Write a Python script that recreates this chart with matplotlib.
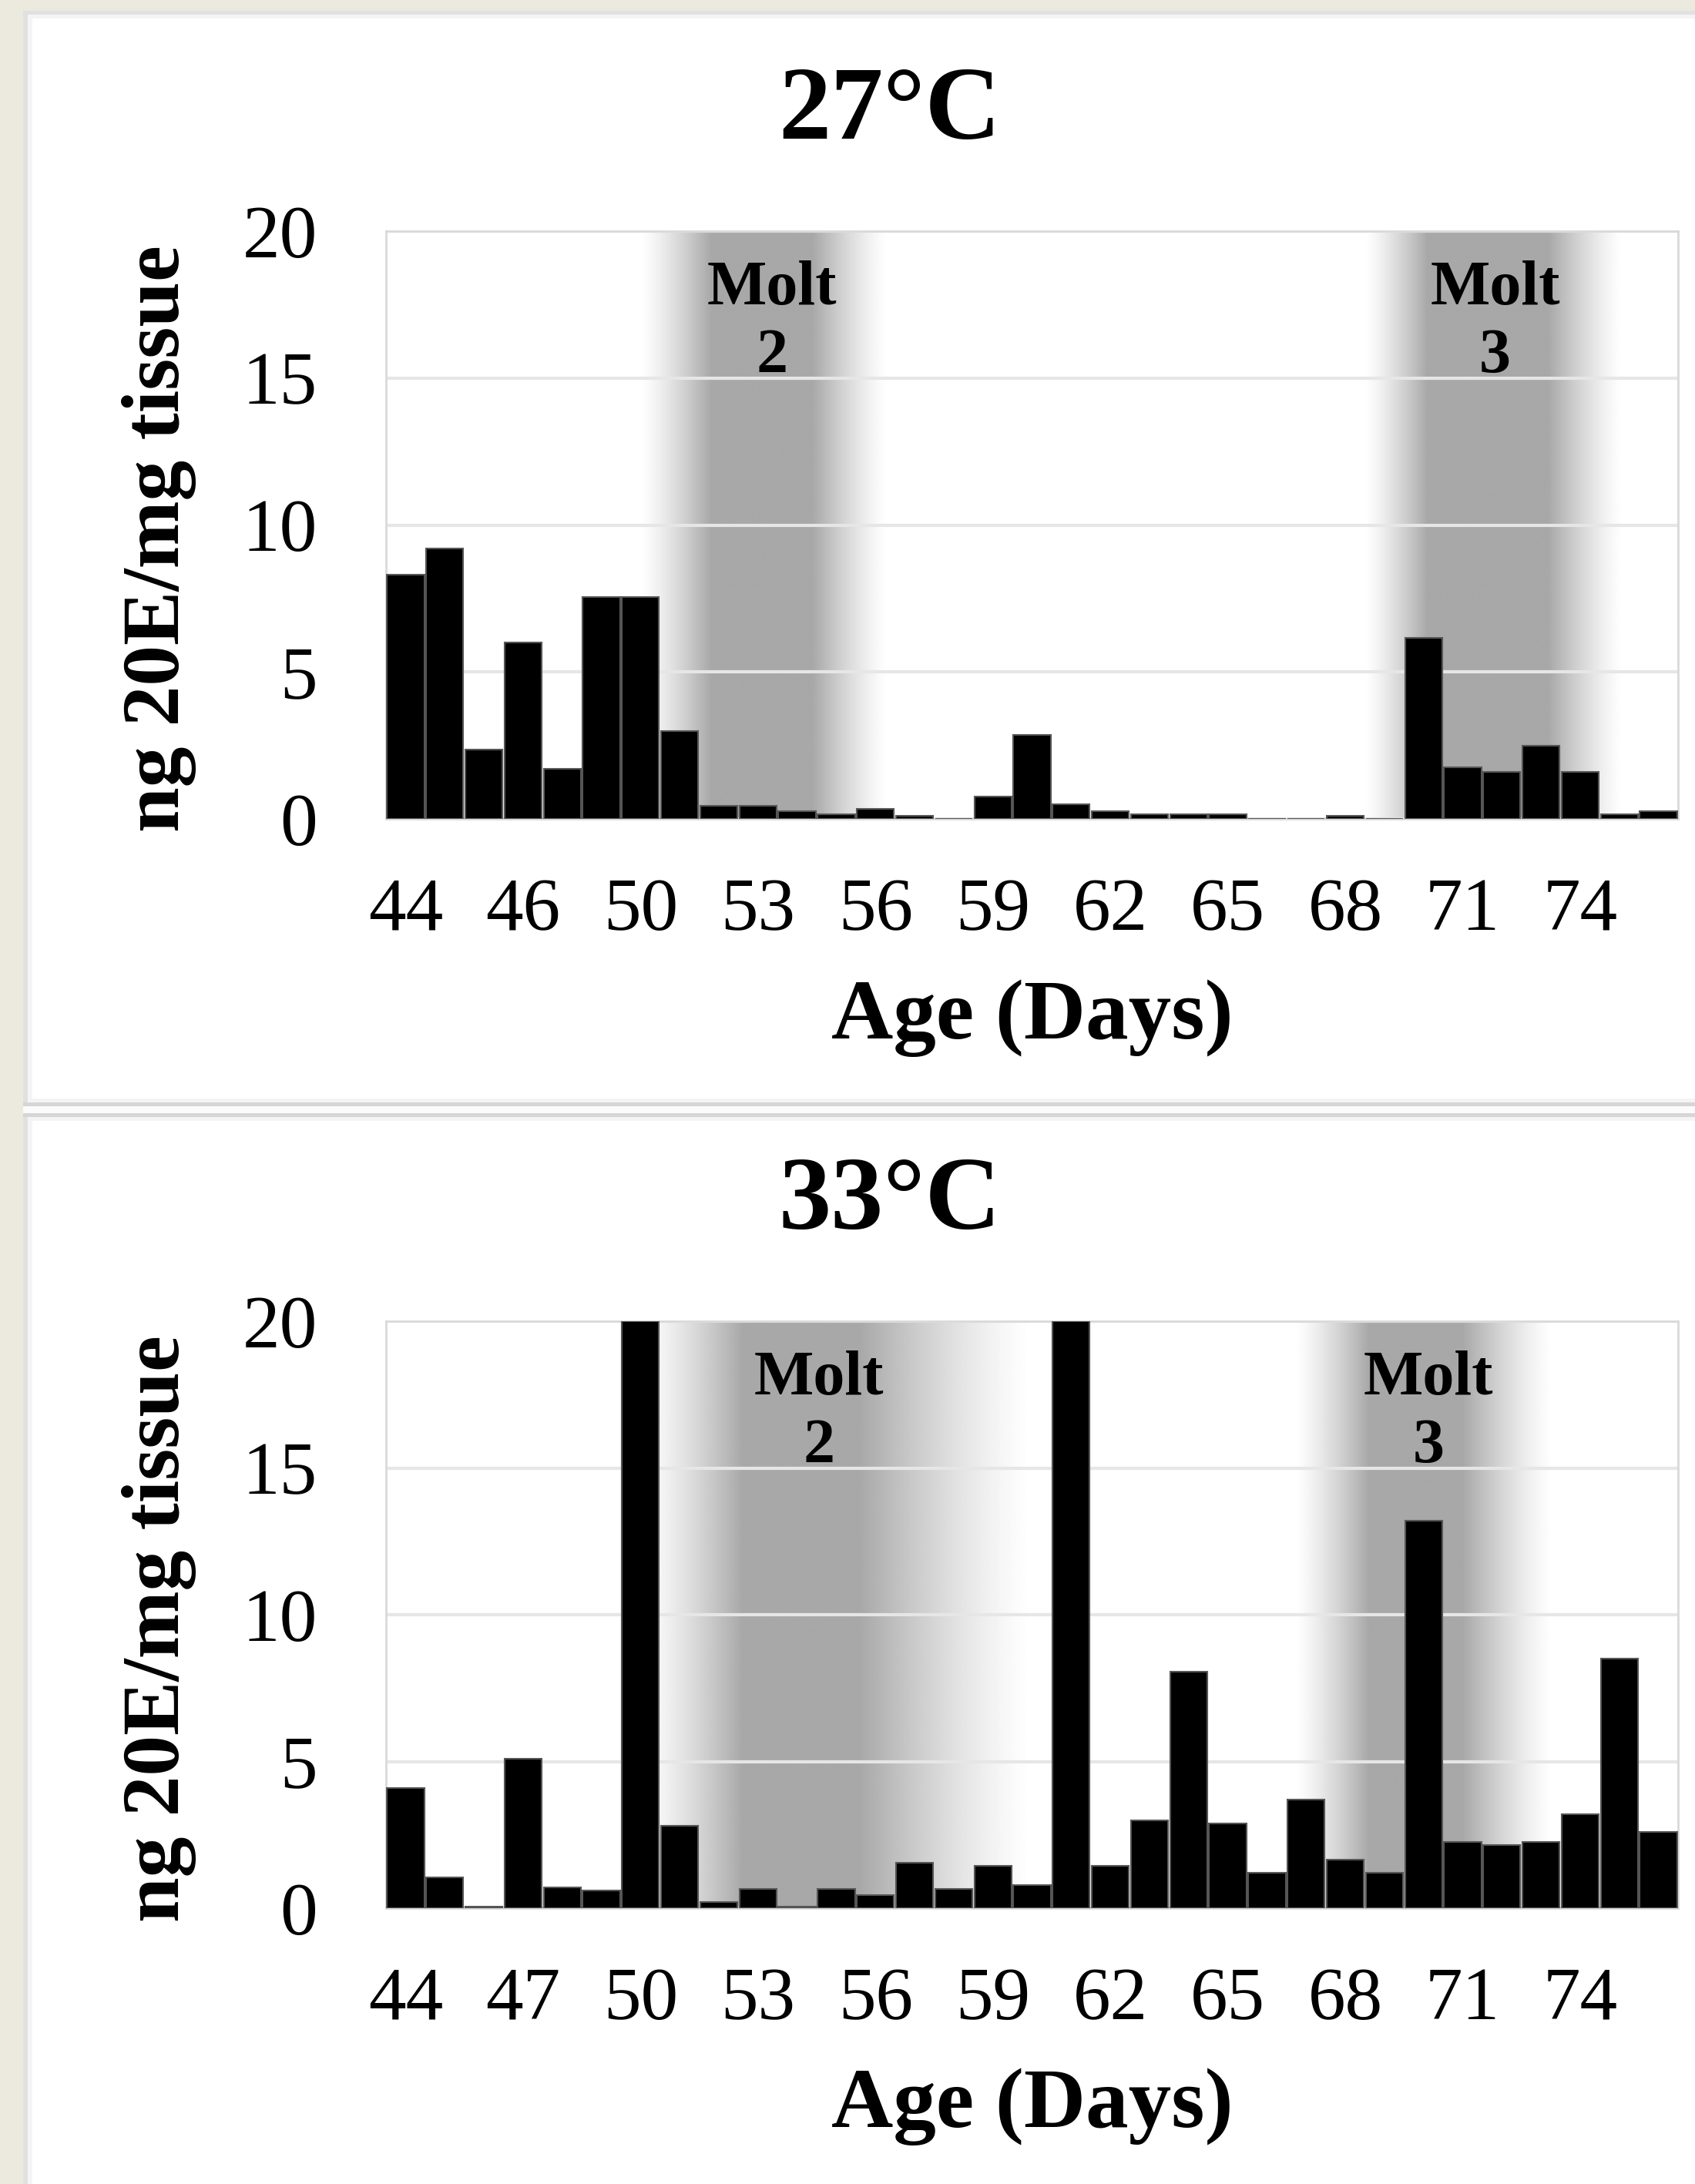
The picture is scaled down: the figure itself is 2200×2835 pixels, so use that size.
import numpy as np
import matplotlib.pyplot as plt
from matplotlib.patches import Rectangle

plt.rcParams['font.family'] = ['Liberation Serif', 'DejaVu Serif']

W, H = 2200, 2835

# ---- data ----
days_27 = [44, 45, 45, 46, 47, 49, 50, 51, 52, 53, 54, 55, 56, 57, 58, 59, 60,
           61, 62, 63, 64, 65, 66, 67, 68, 69, 70, 71, 72, 73, 74, 75, 76]
ecd_27 = [8.3, 9.2, 2.35, 6.0, 1.7, 7.55, 7.55, 3.0, 0.45, 0.45, 0.25, 0.17,
          0.35, 0.1, 0.0, 0.75, 2.85, 0.5, 0.25, 0.17, 0.17, 0.17, 0.0, 0.0,
          0.1, 0.0, 6.15, 1.75, 1.6, 2.5, 1.6, 0.15, 0.25]

days_33 = [44, 45, 46, 47, 48, 49, 50, 51, 52, 53, 54, 55, 56, 57, 58, 59, 60,
           61, 62, 63, 64, 65, 66, 67, 68, 69, 70, 71, 72, 73, 74, 75, 76]
ecd_33 = [4.1, 1.05, 0.05, 5.1, 0.7, 0.6, 20.0, 2.8, 0.2, 0.65, 0.05, 0.65,
          0.45, 1.55, 0.65, 1.45, 0.8, 20.0, 1.45, 3.0, 8.05, 2.9, 1.2, 3.7,
          1.65, 1.2, 13.2, 2.25, 2.15, 2.25, 3.2, 8.5, 2.6]

# molt shading: label, fade start, dark start, dark end, fade end, label x (category index)
molt_27 = [("2", 6.0, 7.8, 10.4, 12.3, 9.36), ("3", 24.5, 26.1, 29.2, 31.1, 27.83)]
molt_33 = [("2", 6.0, 8.6, 11.6, 16.0, 10.56), ("3", 22.7, 24.6, 27.0, 29.3, 26.13)]

panels = [("27°C", days_27, ecd_27, molt_27, 300, 1063),
          ("33°C", days_33, ecd_33, molt_33, 1715, 2477)]


def fx(x):
    return x / W


def fy(y):
    return 1 - y / H


fig = plt.figure(figsize=(22, 28.35), dpi=100)
fig.patch.set_facecolor('#ECE9DF')


def rect(x, y, w, h, c):
    fig.add_artist(Rectangle((fx(x), fy(y + h)), w / W, h / H, transform=fig.transFigure,
                             facecolor=c, edgecolor='none', zorder=-10))


# white slide panels with light borders
rect(30, 14, 2170, 2821, 'white')
rect(30, 14, 6, 2821, '#E1E1E1')
rect(36, 19, 6, 2816, '#F4F4F4')
rect(30, 14, 2170, 5, '#E1E1E1')
rect(36, 19, 2164, 5, '#F4F4F4')
rect(36, 1426, 2164, 5, '#F4F4F4')
rect(30, 1431, 2170, 5, '#D6D6D6')
rect(30, 1436, 2170, 9, '#FBFBFB')
rect(30, 1445, 2170, 5, '#D6D6D6')
rect(36, 1450, 2164, 5, '#F4F4F4')

for title, days, vals, molts, top, bot in panels:
    ax = fig.add_axes([fx(501), fy(bot), 1677 / W, (bot - top) / H])
    ax.set_facecolor('white')
    x = np.arange(len(days))

    # gradient molt bands
    for lab, a, b, c, d, tx in molts:
        xs = np.linspace(a, d, 600)
        t = np.interp(xs, [a, b, c, d], [0, 1, 1, 0])
        t = t ** 1.3
        col = 1 - t * (1 - 0.66)
        ax.imshow(col[None, :], cmap='gray', vmin=0, vmax=1, extent=[a, d, 0, 20],
                  aspect='auto', zorder=0.2, interpolation='bilinear')
        ax.text(tx, 17.5, "Molt", ha='center', va='baseline', fontsize=59,
                fontweight='bold', zorder=4)
        ax.text(tx, 15.2, lab, ha='center', va='baseline', fontsize=59,
                fontweight='bold', zorder=4)

    ax.bar(x, vals, width=0.95, color='black', edgecolor='#555555', linewidth=1.5, zorder=3)

    ax.set_xlim(-0.5, len(days) - 0.5)
    ax.set_ylim(0, 20)
    ax.set_yticks([0, 5, 10, 15, 20])
    ax.set_xticks(x[::3])
    ax.set_xticklabels([str(d) for d in days[::3]])
    ax.tick_params(axis='both', length=0, labelsize=70)
    ax.tick_params(axis='x', pad=55)
    ax.tick_params(axis='y', pad=64)
    ax.grid(axis='y', color='#E6E6E6', linewidth=3)
    ax.set_axisbelow(True)
    for s in ax.spines.values():
        s.set_color('#D9D9D9')
        s.set_linewidth(2)

    ax.set_xlabel("Age (Days)", fontsize=80, fontweight='bold')
    ax.xaxis.set_label_coords(0.5, -(1271 - 1063) / 763)

    fig.text(fx(1155), fy(top - 120), title, ha='center', va='baseline',
             fontsize=98, fontweight='bold')
    fig.text(fx(207), fy((top + bot) / 2 + 18), "ng 20E/mg tissue", rotation=90,
             ha='center', va='center', fontsize=76, fontweight='bold')

fig.savefig('out.png', dpi=100, facecolor=fig.get_facecolor())
